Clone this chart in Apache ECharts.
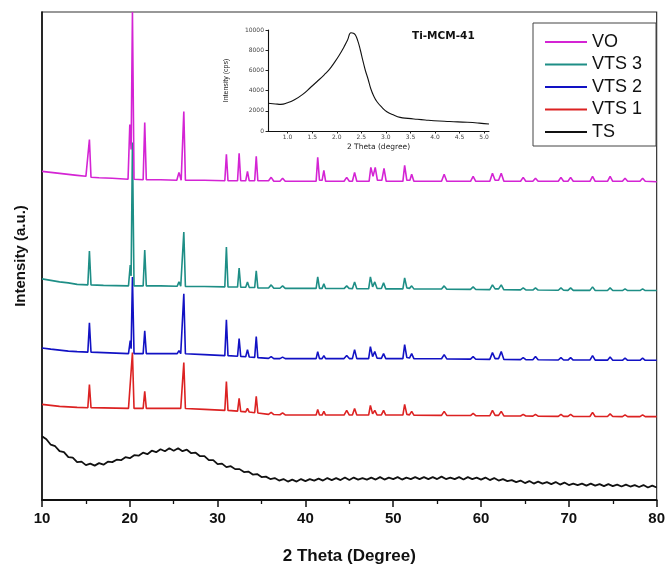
<!DOCTYPE html>
<html>
<head>
<meta charset="utf-8">
<script src="https://cdn.jsdelivr.net/npm/echarts@6/dist/echarts.min.js"></script>
<style>html,body{margin:0;padding:0;background:#fff}#c{width:668px;height:570px}</style>
</head>
<body>
<div id="c"></div>
<script>
// ---- Data (2θ in degrees, intensity in a.u. incl. stacking offset) ----
const seriesNames = ['VO', 'VTS 3', 'VTS 2', 'VTS 1', 'TS'];
const mainXTicks = [10, 20, 30, 40, 50, 60, 70, 80];
const insetXTicks = [1.0, 1.5, 2.0, 2.5, 3.0, 3.5, 4.0, 4.5, 5.0];
const insetYTicks = [0, 2000, 4000, 6000, 8000, 10000];

const vo = [[10,330],[11,329],[12,328],[13,327],[14,326],[15,325],[15.22,324.5],[15.4,362],[15.58,324],[16.5,323.5],[18,323],[19.8,322],[20.0,377],[20.15,352],[20.3,490],[20.48,322],[21.52,321.5],[21.7,379],[21.88,321.5],[23.5,321.5],[25.35,321],[25.6,329],[25.85,321],[25.97,321],[26.15,390],[26.33,321],[28.5,321],[30.82,320.5],[31.0,347],[31.18,320.5],[32.27,320.5],[32.45,348],[32.63,320.5],[33.2,320.5],[33.4,330],[33.6,320.5],[34.22,320.5],[34.4,345],[34.58,320.5],[35.8,320.5],[36.1,324],[36.4,320],[37.1,320],[37.4,323],[37.7,320],[41.22,320],[41.4,344],[41.6,321],[41.9,321],[42.1,331],[42.3,320],[44.4,320],[44.7,324],[45.0,320],[45.35,320],[45.6,329],[45.85,320],[47.25,320],[47.45,334],[47.7,325],[47.95,334],[48.2,321],[48.7,321],[48.95,333],[49.2,320],[51.1,320],[51.3,336],[51.55,321],[51.9,321],[52.1,327],[52.35,320],[55.5,320],[55.8,327],[56.1,320],[58.8,320],[59.1,325],[59.4,320],[61.0,320],[61.3,328],[61.6,321],[62.0,321],[62.3,328],[62.6,320],[64.5,320],[64.8,324],[65.1,320],[65.9,320],[66.2,323],[66.5,320],[68.8,320],[69.1,324],[69.4,320],[69.9,320],[70.2,324],[70.5,320],[72.4,320],[72.7,325],[73.0,320],[74.4,320],[74.7,325],[75.0,320],[76.1,320],[76.4,323],[76.7,320],[78.1,320],[78.4,323],[78.7,320],[80,319.5]];

const vts3 = [[10,222],[11,220.5],[12,219],[13,218],[14,216.5],[15.22,216],[15.4,250],[15.58,216],[17,215.5],[19.85,215],[20.05,236],[20.15,225],[20.3,359],[20.48,215],[21.52,215],[21.7,251],[21.88,215],[23.5,215],[25.4,214.7],[25.6,219],[25.8,214.7],[25.97,214.7],[26.15,269],[26.33,214.5],[28.5,214.3],[30.82,214],[31.0,254],[31.18,214],[32.27,213.8],[32.45,233],[32.63,213.7],[33.2,213.6],[33.4,219],[33.6,213.5],[34.22,213.3],[34.4,230],[34.58,213],[35.8,212.8],[36.1,216],[36.4,212.7],[37.1,212.6],[37.4,215],[37.7,212.5],[41.22,212.5],[41.4,224],[41.6,212.5],[41.9,212.5],[42.1,217],[42.3,212.4],[44.4,212.3],[44.7,215],[45.0,212.3],[45.35,212.2],[45.6,219],[45.85,212.2],[47.2,212.1],[47.4,224],[47.65,214],[47.9,219],[48.15,212.5],[48.65,212.3],[48.9,218],[49.15,212],[51.1,212],[51.3,223],[51.55,213],[51.85,212.5],[52.1,215],[52.35,212],[55.5,211.8],[55.8,215],[56.1,211.7],[58.8,211.5],[59.1,214],[59.4,211.3],[61.0,211.2],[61.3,216],[61.6,212],[62.0,212],[62.3,216],[62.6,211.1],[64.5,211],[64.8,213],[65.1,210.9],[65.9,210.8],[66.2,213],[66.5,210.8],[68.8,210.6],[69.1,213],[69.4,210.6],[69.9,210.5],[70.2,213],[70.5,210.5],[72.4,210.5],[72.7,214],[73.0,210.4],[74.4,210.4],[74.7,213],[75.0,210.4],[76.1,210.3],[76.4,212],[76.7,210.3],[78.1,210.3],[78.4,212],[78.7,210.3],[80,210.3]];

const vts2 = [[10,152.7],[11,151.5],[12,150.5],[13,149.5],[14,149],[15.22,148.5],[15.4,178],[15.58,148.5],[17,148],[19.85,147],[20.05,160],[20.15,152],[20.3,224],[20.48,147],[21.52,147],[21.7,170],[21.88,147],[23.5,147],[25.4,147],[25.6,150],[25.8,147],[25.97,147],[26.15,207],[26.33,146.8],[28.5,146],[30.82,145],[31.0,181],[31.18,145],[32.27,144.3],[32.45,162],[32.63,144.2],[33.2,143.8],[33.4,151],[33.6,143.6],[34.22,143.2],[34.4,164],[34.58,143],[35.8,142.2],[36.1,144],[36.4,142],[37.1,142],[37.4,143.5],[37.7,142],[41.22,142],[41.4,149],[41.6,142],[41.9,142],[42.1,145],[42.3,142],[44.4,142],[44.7,145],[45.0,142],[45.35,142],[45.6,151],[45.85,142],[47.2,142],[47.4,154],[47.65,144],[47.9,149],[48.15,142.5],[48.65,142.2],[48.9,147],[49.15,142],[51.1,142],[51.3,156],[51.55,143],[51.85,142.5],[52.1,147],[52.35,142],[55.5,141.8],[55.8,146],[56.1,141.7],[58.8,141.5],[59.1,144],[59.4,141.3],[61.0,141.2],[61.3,148],[61.6,142],[62.0,142],[62.3,149],[62.6,141.1],[64.5,141],[64.8,143],[65.1,140.9],[65.9,140.8],[66.2,144],[66.5,140.8],[68.8,140.6],[69.1,143],[69.4,140.6],[69.9,140.5],[70.2,143],[70.5,140.5],[72.4,140.5],[72.7,145],[73.0,140.4],[74.4,140.4],[74.7,143.5],[75.0,140.4],[76.1,140.3],[76.4,142.5],[76.7,140.3],[78.1,140.3],[78.4,142.5],[78.7,140.3],[80,140.3]];

const vts1 = [[10,96],[11,95],[12,94],[13,93.5],[14,93],[15.22,92.7],[15.4,116],[15.58,92.7],[17,92.5],[19.85,92],[20.3,148],[20.48,92],[21.52,92],[21.7,109],[21.88,92],[23.5,92],[25.4,92],[25.6,94],[25.8,92],[25.97,92],[26.15,138],[26.33,91.8],[28.5,91],[30.82,90],[31.0,119],[31.18,90],[32.27,89.2],[32.45,102],[32.63,89],[33.2,88.5],[33.4,92],[33.6,88.3],[34.22,87.6],[34.4,104],[34.58,87.4],[35.8,86],[36.1,88],[36.4,85.8],[37.1,85.6],[37.4,87.5],[37.7,85.5],[41.22,85.3],[41.4,91],[41.6,85.3],[41.9,85.3],[42.1,89],[42.3,85.3],[44.4,85.3],[44.7,90],[45.0,85.3],[45.35,85.3],[45.6,92],[45.85,85.3],[47.2,85.3],[47.4,95],[47.65,86.5],[47.9,90],[48.15,85.5],[48.65,85.4],[48.9,90],[49.15,85.3],[51.1,85.3],[51.3,96],[51.55,86],[51.85,85.5],[52.1,89],[52.35,85.2],[55.5,85],[55.8,89],[56.1,85],[58.8,84.8],[59.1,87],[59.4,84.7],[61.0,84.6],[61.3,90],[61.6,85],[62.0,85],[62.3,89],[62.6,84.5],[64.5,84.4],[64.8,86],[65.1,84.3],[65.9,84.2],[66.2,86],[66.5,84.2],[68.8,84],[69.1,86],[69.4,84],[69.9,84],[70.2,86],[70.5,84],[72.4,83.9],[72.7,88],[73.0,83.9],[74.4,83.8],[74.7,86.5],[75.0,83.8],[76.1,83.7],[76.4,85.5],[76.7,83.7],[78.1,83.7],[78.4,85.5],[78.7,83.7],[80,83.7]];

const ts = [[10,64],[10.5,61],[11,55.5],[11.5,54],[12,49],[12.5,48],[13,43],[13.5,42.5],[14,38],[14.5,38.5],[15,35],[15.5,36.5],[16,34.5],[16.5,37],[17,35.5],[17.5,38.5],[18,38],[18.5,40.5],[19,40],[19.5,43],[20,42],[20.5,45],[21,44.5],[21.5,47.5],[22,46],[22.5,49.5],[23,48],[23.5,51],[24,49],[24.5,52],[25,49.5],[25.5,52],[26,49],[26.5,50.5],[27,47],[27.5,47.5],[28,44],[28.5,44],[29,40],[29.5,40],[30,36],[30.5,36.5],[31,33],[31.5,34],[32,31],[32.5,31],[33,28],[33.5,28.5],[34,25.5],[34.5,26],[35,23],[35.5,23.5],[36,21],[36.5,22],[37,19.5],[37.5,21],[38,18.5],[38.5,20.5],[39,18.5],[39.5,21],[40,19],[40.5,21],[41,19.5],[41.5,21.5],[42,19.5],[42.5,22],[43,20],[43.5,22],[44,20],[44.5,22.5],[45,20],[45.5,22.5],[46,20.5],[46.5,22],[47,20.5],[47.5,22.5],[48,20.5],[48.5,23],[49,20.5],[49.5,22.5],[50,21],[50.5,23],[51,20.5],[51.5,22.5],[52,21],[52.5,23],[53,21],[53.5,23],[54,21],[54.5,23],[55,21],[55.5,23.5],[56,21],[56.5,22.5],[57,21],[57.5,23],[58,20.5],[58.5,23],[59,21],[59.5,22.5],[60,20.5],[60.5,22.5],[61,20],[61.5,22],[62,19.5],[62.5,21],[63,19],[63.5,20],[64,18],[64.5,19.5],[65,17],[65.5,19],[66,16.5],[66.5,18.5],[67,16.5],[67.5,18],[68,16],[68.5,18],[69,15.5],[69.5,17.5],[70,15],[70.5,16.5],[71,15],[71.5,16.5],[72,14.5],[72.5,16.5],[73,14.5],[73.5,16],[74,14],[74.5,16],[75,14],[75.5,15.5],[76,13.5],[76.5,15.5],[77,13.5],[77.5,15],[78,13],[78.5,15],[79,12.5],[79.5,14.5],[80,12.5]];

// Inset: Ti-MCM-41 low-angle pattern (2θ, counts)
const insetData = [[0.6,2740],[0.75,2680],[0.86,2640],[1.0,2800],[1.13,3070],[1.3,3600],[1.47,4330],[1.6,4900],[1.74,5540],[1.85,6100],[1.94,6700],[2.05,7500],[2.15,8350],[2.22,9000],[2.29,9730],[2.34,9680],[2.38,9500],[2.43,8900],[2.48,8020],[2.53,7000],[2.58,6040],[2.64,5100],[2.69,4230],[2.75,3500],[2.82,2900],[2.92,2350],[3.02,1910],[3.15,1600],[3.29,1350],[3.45,1250],[3.64,1160],[3.8,1090],[3.98,1020],[4.3,940],[4.66,860],[4.9,780],[5.1,690]];

const colors = {'VO':'#d424d4','VTS 3':'#1e8e86','VTS 2':'#1212c4','VTS 1':'#dc2222','TS':'#111111'};
const dataByName = {'VO':vo,'VTS 3':vts3,'VTS 2':vts2,'VTS 1':vts1,'TS':ts};

const chart = echarts.init(document.getElementById('c'), null, {renderer:'canvas'});
const drawOrder = ['TS','VTS 1','VTS 2','VTS 3','VO'];
const series = drawOrder.map(n => ({
  name: n, type: 'line', xAxisIndex: 0, yAxisIndex: 0,
  data: dataByName[n], showSymbol: false, symbol: 'none',
  color: colors[n],
  lineStyle: {color: colors[n], width: n === 'TS' ? 1.8 : 1.6},
  silent: true
}));
series.push({
  name: 'inset', type: 'line', xAxisIndex: 1, yAxisIndex: 1,
  data: insetData, smooth: true, showSymbol: false, symbol: 'none',
  lineStyle: {color: '#111', width: 1.1}, silent: true
});

const option = {
  backgroundColor: '#ffffff',
  animation: false,
  grid: [
    {left: 42, top: 12, width: 618, height: 490, show: true, borderColor: '#333', borderWidth: 1.2, backgroundColor: 'transparent'},
    {left: 268, top: 30, width: 221, height: 101}
  ],
  legend: {
    data: seriesNames,
    orient: 'vertical',
    left: 533, top: 23,
    icon: 'rect', itemWidth: 42, itemHeight: 2, itemGap: 2.5,
    padding: [9, 14, 4, 12],
    borderColor: '#444', borderWidth: 1,
    backgroundColor: '#fff',
    textStyle: {fontFamily: 'Liberation Sans', fontSize: 18, color: '#111', lineHeight: 20},
    selectedMode: false
  },
  xAxis: [
    {
      gridIndex: 0, type: 'value', min: mainXTicks[0], max: mainXTicks[mainXTicks.length - 1], interval: 10,
      axisLine: {onZero: false, lineStyle: {color: '#111', width: 1.8}},
      axisTick: {length: 7, lineStyle: {color: '#111', width: 1.5}},
      minorTick: {show: true, splitNumber: 2, length: 4, lineStyle: {color: '#111', width: 1.3}},
      axisLabel: {fontFamily: 'Liberation Sans', fontWeight: 'bold', fontSize: 15, color: '#111', margin: 11},
      splitLine: {show: false},
      name: '2 Theta (Degree)', nameLocation: 'middle', nameGap: 48,
      nameTextStyle: {fontFamily: 'Liberation Sans', fontWeight: 'bold', fontSize: 17, color: '#111'}
    },
    {
      gridIndex: 1, type: 'value', min: 0.6, max: 5.1,
      axisLine: {onZero: false, lineStyle: {color: '#111', width: 1.1}},
      axisTick: {customValues: insetXTicks, length: 2.5, lineStyle: {color: '#222', width: 1}},
      axisLabel: {customValues: insetXTicks, formatter: v => v.toFixed(1), fontFamily: 'DejaVu Sans', fontSize: 6, color: '#444', margin: 3},
      splitLine: {show: false},
      name: '2 Theta (degree)', nameLocation: 'middle', nameGap: 12,
      nameTextStyle: {fontFamily: 'DejaVu Sans', fontSize: 7.5, color: '#222'}
    }
  ],
  yAxis: [
    {
      gridIndex: 0, type: 'value', min: 0, max: 490,
      axisLine: {show: true, onZero: false, lineStyle: {color: '#111', width: 1.6}},
      axisTick: {show: false}, axisLabel: {show: false}, splitLine: {show: false},
      name: 'Intensity (a.u.)', nameLocation: 'middle', nameGap: 14,
      nameTextStyle: {fontFamily: 'Liberation Sans', fontWeight: 'bold', fontSize: 15, color: '#111'}
    },
    {
      gridIndex: 1, type: 'value', min: insetYTicks[0], max: insetYTicks[insetYTicks.length - 1], interval: 2000,
      axisLine: {show: true, onZero: false, lineStyle: {color: '#111', width: 1.1}},
      axisTick: {show: true, length: 2.5, lineStyle: {color: '#222', width: 1}},
      axisLabel: {formatter: v => String(v), fontFamily: 'DejaVu Sans', fontSize: 6, color: '#444', margin: 4},
      splitLine: {show: false},
      name: 'Intensity (cps)', nameLocation: 'middle', nameGap: 38,
      nameTextStyle: {fontFamily: 'Liberation Sans', fontSize: 7, color: '#222'}
    }
  ],
  graphic: [
    {type: 'text', left: 412, top: 31, silent: true,
     style: {text: 'Ti-MCM-41', font: 'bold 10.5px "DejaVu Sans"', fill: '#111'}}
  ],
  series: series
};
chart.setOption(option);
</script>
</body>
</html>
